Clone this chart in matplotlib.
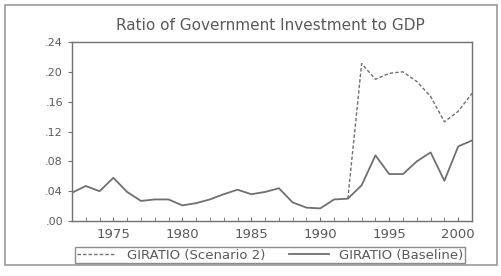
import numpy as np
import matplotlib.pyplot as plt
from matplotlib.patches import Rectangle
from matplotlib.ticker import MultipleLocator, FuncFormatter

# Ratio of government investment to GDP, annual 1972-2001
years = np.arange(1972, 2002)
baseline = [0.038, 0.047, 0.040, 0.058, 0.039, 0.027, 0.029, 0.029, 0.021, 0.024,
            0.029, 0.036, 0.042, 0.036, 0.039, 0.044, 0.025, 0.018, 0.017, 0.029,
            0.030, 0.048, 0.088, 0.063, 0.063, 0.080, 0.092, 0.054, 0.100, 0.108]
# scenario 2 only departs from the baseline from 1992 on
scenario2 = [np.nan] * 20 + [0.030, 0.211, 0.190, 0.198, 0.200,
                             0.187, 0.167, 0.133, 0.147, 0.171]

line_col = '#707070'
text_col = '#5a5a5a'

fig = plt.figure(figsize=(5.02, 2.76), dpi=100)
ax = fig.add_axes([0.1434, 0.199, 0.7968, 0.649])

ax.plot(years, scenario2, linestyle=(0, (2.5, 1.5)), color=line_col, lw=1.0,
        label='GIRATIO (Scenario 2)')
ax.plot(years, baseline, linestyle='-', color=line_col, lw=1.3,
        label='GIRATIO (Baseline)')

ax.set_xlim(1972, 2001)
ax.set_ylim(0, 0.24)
ax.set_yticks(np.arange(0, 0.25, 0.04))
ax.yaxis.set_major_formatter(FuncFormatter(lambda v, p: ('%.2f' % v)[1:]))
ax.set_xticks([1975, 1980, 1985, 1990, 1995, 2000])
ax.xaxis.set_minor_locator(MultipleLocator(1))
ax.tick_params(axis='x', which='both', direction='in', length=3, colors=line_col,
               labelcolor=text_col, labelsize=9.5, pad=5)
ax.tick_params(axis='y', direction='out', length=3, colors=line_col,
               labelcolor=text_col, labelsize=8)
for s in ax.spines.values():
    s.set_color(line_col)
    s.set_linewidth(1.0)

fig.text(0.538, 0.909, 'Ratio of Government Investment to GDP', ha='center',
         va='center', fontsize=11, color=text_col)

fig.legend(loc='center', bbox_to_anchor=(0.538, 0.076), ncol=2, fontsize=9.5,
           frameon=True, fancybox=False, edgecolor=line_col, handlelength=3.0,
           columnspacing=1.8, borderpad=0.1, labelcolor=text_col)

fig.patches.append(Rectangle((0.01, 0.04), 0.98, 0.942, transform=fig.transFigure,
                             fill=False, edgecolor='#999999', lw=1.2))

fig.savefig('out.png', dpi=100)
